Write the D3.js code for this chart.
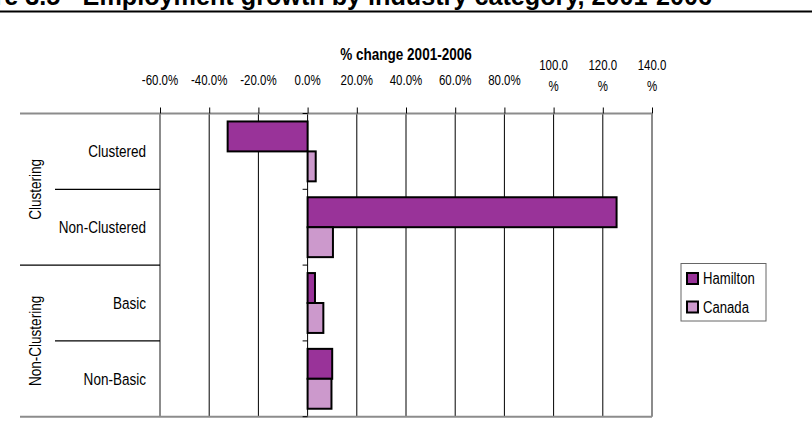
<!DOCTYPE html>
<html>
<head>
<meta charset="utf-8">
<script src="https://cdn.jsdelivr.net/npm/d3@7"></script>
<style>
  body { margin: 0; background: #fff; }
  svg { display: block; }
  text { font-family: "Liberation Sans", Arial, sans-serif; fill: #000; }
</style>
</head>
<body>
<div id="chart"></div>
<script>
// data
var categories = ["Clustered", "Non-Clustered", "Basic", "Non-Basic"]
var groups = [
  { name: "Clustering", members: ["Clustered", "Non-Clustered"] },
  { name: "Non-Clustering", members: ["Basic", "Non-Basic"] }
]
var seriesNames = ["Hamilton", "Canada"]
var hamilton = [-32.5, 125.6, 3.0, 10.0]
var canada = [3.3, 10.3, 6.4, 9.7]
var tickValues = [-60, -40, -20, 0, 20, 40, 60, 80, 100, 120, 140]
var tickLabels = ["-60.0%", "-40.0%", "-20.0%", "0.0%", "20.0%", "40.0%", "60.0%", "80.0%", "100.0%", "120.0%", "140.0%"]

var colors = { Hamilton: "#993399", Canada: "#cc99cc" }

var W = 812, H = 444
var margin = { top: 113.5, left: 160 }
var plotW = 652 - margin.left
var plotH = 416.7 - margin.top
var NARROW = 0.82 // no Arial Narrow installed, squeeze Liberation Sans instead

var svg = d3.select("#chart").append("svg")
  .attr("width", W)
  .attr("height", H)

// narrow text helper
function ntext(parent, x, y, str, size, anchor, extra) {
  return parent.append("text")
    .attr("transform", "translate(" + x + "," + y + ")" + (extra || "") + " scale(" + NARROW + ",1)")
    .attr("text-anchor", anchor || "start")
    .style("font-size", size + "px")
    .text(str)
}

// cut-off figure title + rule
svg.append("text")
  .attr("x", 712)
  .attr("y", 4.5)
  .attr("text-anchor", "end")
  .style("font-weight", "bold")
  .style("font-size", "25.2px")
  .text("Figure 3.5 - Employment growth by industry category, 2001-2006")
svg.append("line")
  .attr("x1", 0).attr("x2", W)
  .attr("y1", 11.5).attr("y2", 11.5)
  .attr("stroke", "#000").attr("stroke-width", 2)

var g = svg.append("g")
  .attr("transform", "translate(" + margin.left + "," + margin.top + ")")

var x = d3.scaleLinear().domain([-60, 140]).range([0, plotW])
var y = d3.scaleBand().domain(categories).range([0, plotH])
  .paddingInner(0.21).paddingOuter(0.105)
var ySub = d3.scaleBand().domain(seriesNames).range([0, y.bandwidth()])
var step = plotH / categories.length

// gridlines
g.selectAll(".grid")
  .data(tickValues.slice(1, -1))
  .enter().append("line")
  .attr("x1", d => x(d)).attr("x2", d => x(d))
  .attr("y1", 0).attr("y2", plotH)
  .attr("stroke", "#000").attr("stroke-width", 1)

// plot border (gray)
g.append("line").attr("x1", 0).attr("x2", 0).attr("y1", 0).attr("y2", plotH)
  .attr("stroke", "#8c8c8c").attr("stroke-width", 2)
g.append("line").attr("x1", plotW).attr("x2", plotW).attr("y1", 0).attr("y2", plotH)
  .attr("stroke", "#8c8c8c").attr("stroke-width", 2)
g.append("line").attr("x1", 20 - margin.left).attr("x2", plotW).attr("y1", 0).attr("y2", 0)
  .attr("stroke", "#8c8c8c").attr("stroke-width", 2)
g.append("line").attr("x1", 20 - margin.left).attr("x2", plotW).attr("y1", plotH).attr("y2", plotH)
  .attr("stroke", "#8c8c8c").attr("stroke-width", 2)

// value axis on top
var xAxis = d3.axisTop(x).tickValues(tickValues).tickSize(6).tickFormat("")
var ax = g.append("g").call(xAxis)
ax.select(".domain").remove()
ax.selectAll(".tick line").attr("stroke", "#000")

tickValues.forEach(function(d, i) {
  var s = tickLabels[i]
  if (d >= 100) {
    var t = ntext(g, x(d), 69.5 - margin.top, null, 14, "middle")
    t.append("tspan").attr("x", 0).attr("y", 0).text(s.replace("%", ""))
    t.append("tspan").attr("x", 0).attr("y", 22).text("%")
  } else {
    ntext(g, x(d), 85 - margin.top, s, 14, "middle")
  }
})

ntext(svg, margin.left + plotW / 2, 60, "% change 2001-2006", 16.5, "middle")
  .style("font-weight", "bold")

// category axis ticks crossing at 0
g.selectAll(".ctick")
  .data(d3.range(categories.length + 1))
  .enter().append("line")
  .attr("x1", x(0) - 5).attr("x2", x(0))
  .attr("y1", d => d * step).attr("y2", d => d * step)
  .attr("stroke", "#000").attr("stroke-width", 1)

// category separators on the left
g.selectAll(".sep")
  .data(d3.range(1, categories.length))
  .enter().append("line")
  .attr("x1", d => d === 2 ? 20 - margin.left : 55 - margin.left)
  .attr("x2", 0)
  .attr("y1", d => d * step).attr("y2", d => d * step)
  .attr("stroke", "#000").attr("stroke-width", 1.3)

// category labels
categories.forEach(function(c) {
  ntext(g, 146 - margin.left, y(c) + y.bandwidth() / 2, c, 16.5, "end")
    .attr("dy", "0.35em")
})

// group labels, rotated
groups.forEach(function(d) {
  var cy = d3.mean(d.members, m => y(m) + y.bandwidth() / 2)
  ntext(g, 35 - margin.left, cy, d.name, 16.5, "middle", " rotate(-90)")
    .attr("dy", "0.35em")
})

// bars
var rows = categories.map(function(c, i) {
  return { cat: c, values: [
    { s: "Hamilton", v: hamilton[i] },
    { s: "Canada", v: canada[i] }
  ] }
})
var cg = g.selectAll(".cat")
  .data(rows)
  .enter().append("g")
  .attr("transform", d => "translate(0," + y(d.cat) + ")")
cg.selectAll("rect")
  .data(d => d.values)
  .enter().append("rect")
  .attr("x", d => x(Math.min(0, d.v)))
  .attr("width", d => Math.abs(x(d.v) - x(0)))
  .attr("y", d => ySub(d.s))
  .attr("height", ySub.bandwidth())
  .attr("fill", d => colors[d.s])
  .attr("stroke", "#000")
  .attr("stroke-width", 2)

// legend
var lg = svg.append("g").attr("transform", "translate(681,263.5)")
lg.append("rect")
  .attr("width", 85).attr("height", 57.5)
  .attr("fill", "#fff").attr("stroke", "#666").attr("stroke-width", 1)
seriesNames.forEach(function(d, i) {
  var it = lg.append("g").attr("transform", "translate(6," + (9.5 + i * 28.5) + ")")
  it.append("rect").attr("width", 11).attr("height", 11)
    .attr("fill", colors[d]).attr("stroke", "#000").attr("stroke-width", 2)
  ntext(it, 16, 5.5, d, 16, "start").attr("dy", "0.35em")
})
</script>
</body>
</html>
